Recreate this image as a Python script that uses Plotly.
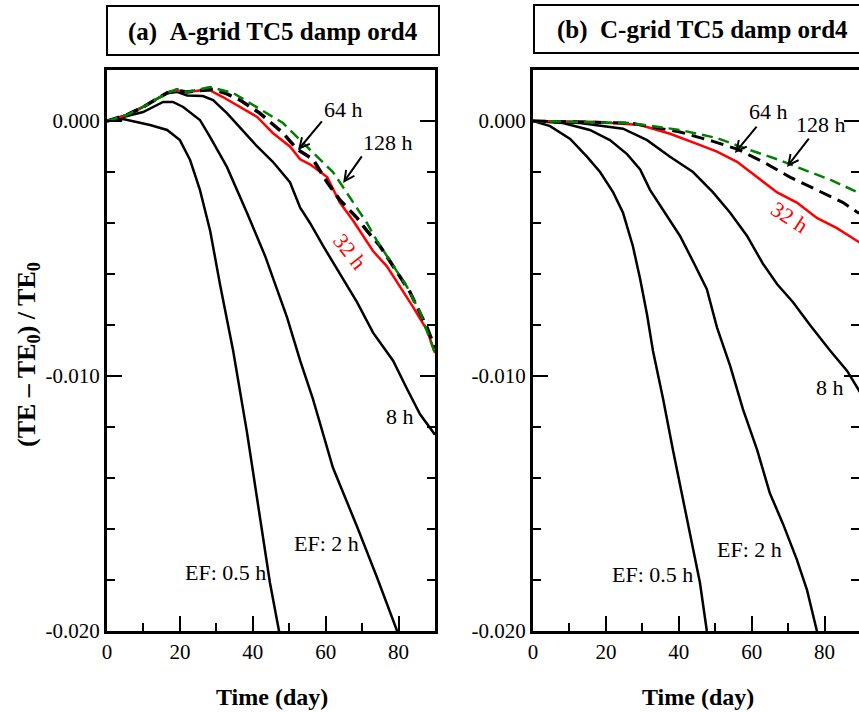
import plotly.graph_objects as go

W, H = 859, 712

# ---------------- data: panel (a) A-grid ----------------
a_ef05_day = [0, 4.4, 11.8, 16.5, 20, 22.8, 25.5, 28.3, 31, 34.6, 38.4, 42, 44.7, 47.2, 48]
a_ef05_te = [0, 0.00008, -0.00016, -0.00035, -0.00075, -0.00153, -0.0027, -0.0043, -0.0064, -0.0090,
             -0.0122, -0.0155, -0.0181, -0.0200, -0.0207]

a_ef2_day = [0, 9.9, 15.4, 18.1, 20.9, 25.5, 28.3, 32.9, 38.4, 43.4, 49.4, 53, 56.5, 62, 68.6, 74.1, 79.6, 80.4]
a_ef2_te = [0, 0.00035, 0.00075, 0.00075, 0.00055, 0.00004, -0.00063, -0.0018, -0.0036, -0.0053, -0.0077,
            -0.0094, -0.0109, -0.0136, -0.0159, -0.0179, -0.0200, -0.0204]

a_ef8_day = [0, 5.5, 9.9, 16.5, 19.2, 22, 26.3, 29.1, 32.9, 36.5, 41.2, 45.5, 50.2, 53, 55.7, 59.3, 63.9,
             68.6, 73, 78.5, 82.3, 85.9, 90]
a_ef8_te = [0, 0.00024, 0.00055, 0.0011, 0.00114, 0.0010, 0.00098, 0.00082, 0.00031, -0.00024, -0.0010,
            -0.0016, -0.0024, -0.0034, -0.0040, -0.0049, -0.0060, -0.0071, -0.0083, -0.0094, -0.0105,
            -0.0115, -0.0123]

a_ef32_day = [0, 5.5, 9.9, 16.5, 19.2, 22, 25.5, 28.3, 31.8, 36.5, 41.2, 45.5, 50.2, 53, 55.7, 60.4, 63.9,
              67.5, 73, 76.8, 80.4, 84, 87.8, 90]
a_ef32_te = [0, 0.00024, 0.00055, 0.0011, 0.0012, 0.00114, 0.0012, 0.0012, 0.00094, 0.00055, 0.00016,
             -0.00047, -0.0010, -0.0015, -0.0017, -0.0022, -0.0032, -0.0039, -0.0051, -0.0057, -0.0065,
             -0.0073, -0.0082, -0.0091]

a_ef64_day = [0, 5.5, 9.9, 16.5, 19.2, 22, 25.5, 29.1, 32.9, 36.5, 41.9, 48.3, 52.1, 56.5, 60.4, 63.9,
              68.6, 71.3, 74.9, 78.5, 83.1, 87.8, 90]
a_ef64_te = [0, 0.00024, 0.00055, 0.0011, 0.0012, 0.00114, 0.0012, 0.00125, 0.00106, 0.00082, 0.00031,
             -0.00047, -0.0011, -0.0015, -0.0024, -0.0031, -0.0038, -0.0043, -0.0049, -0.0057, -0.0067,
             -0.0081, -0.0089]

a_ef128_day = [0, 5.5, 9.9, 16.5, 19.2, 22, 25.5, 28.3, 34.6, 39.2, 43.9, 48.3, 53, 57.6, 62, 64.8, 68.6,
               71.3, 74.1, 77.7, 82.3, 85.9, 89.5, 90]
a_ef128_te = [0, 0.00024, 0.00055, 0.0011, 0.00125, 0.00114, 0.00125, 0.00133, 0.0011, 0.0007, 0.00031,
              -0.00008, -0.00075, -0.0014, -0.0020, -0.0026, -0.0034, -0.0040, -0.0047, -0.0055, -0.0065,
              -0.0075, -0.0089, -0.0091]

# ---------------- data: panel (b) C-grid ----------------
b_ef05_day = [0, 4.7, 10.2, 14.8, 18.4, 22, 24.7, 27.4, 29.4, 31.3, 32.9, 35.7, 38.4, 41.2, 43.9, 45.8, 47.7, 48.3]
b_ef05_te = [0, -0.0002, -0.0007, -0.0014, -0.0020, -0.0028, -0.0036, -0.0049, -0.0062, -0.0076, -0.0090,
             -0.0109, -0.0129, -0.0149, -0.0168, -0.0181, -0.0200, -0.0204]

b_ef2_day = [0, 8.2, 15.6, 21.1, 25.8, 29.4, 32.1, 35.7, 40.3, 43.9, 47.7, 50.5, 54.1, 57.6, 61.5, 65, 68.6,
             72.4, 75.2, 77.9, 78.6]
b_ef2_te = [0, -0.00008, -0.00035, -0.00075, -0.0013, -0.0019, -0.0027, -0.0035, -0.0045, -0.0055, -0.0066,
            -0.0081, -0.0096, -0.0113, -0.0129, -0.0146, -0.0158, -0.0172, -0.0184, -0.0200, -0.0204]

b_ef8_day = [0, 12.9, 24.7, 31.3, 37.6, 43.9, 49.4, 54.1, 58.7, 63.1, 67, 71.3, 76, 81.5, 86.2, 90]
b_ef8_te = [0, -0.00008, -0.0003, -0.00075, -0.0014, -0.0020, -0.0028, -0.0036, -0.0045, -0.0056, -0.0064,
            -0.0071, -0.0080, -0.0090, -0.0098, -0.0107]

b_ef32_day = [0, 17.6, 29.4, 37.6, 45, 50.5, 56, 61.5, 67, 72.4, 77.9, 83.4, 89.2, 90]
b_ef32_te = [0, -0.00004, -0.00016, -0.0005, -0.0009, -0.0012, -0.0016, -0.0022, -0.0028, -0.0032, -0.0038,
             -0.0042, -0.0047, -0.0048]

b_ef64_day = [0, 26.6, 40.3, 49.4, 56, 63.1, 70.5, 77.9, 85.1, 89.2, 90]
b_ef64_te = [0, -0.00008, -0.00043, -0.0008, -0.0011, -0.0016, -0.0022, -0.0027, -0.0032, -0.0036, -0.0036]

b_ef128_day = [0, 26.6, 40.3, 50.5, 58.7, 67, 74.1, 81.5, 89.2, 90]
b_ef128_te = [0, -0.00008, -0.00035, -0.00067, -0.0011, -0.0015, -0.0019, -0.0023, -0.0028, -0.0029]

# ---------------- labels ----------------
panel_titles = ["(a)\u00a0\u00a0A-grid TC5 damp ord4", "(b)\u00a0\u00a0C-grid TC5 damp ord4"]
x_title = "Time (day)"
y_title = "(TE \u2013 TE<sub>0</sub>) / TE<sub>0</sub>"
y_tickvals = [0.0, -0.010, -0.020]
y_ticktext = ["0.000", "-0.010", "-0.020"]
x_tickvals = [0, 20, 40, 60, 80]
x_ticktext = ["0", "20", "40", "60", "80"]

FONT = "Liberation Serif, Times New Roman, Times, serif"


def px_x(p):
    return p / W


def px_y(p):
    return 1 - p / H


fig = go.Figure()

solid = dict(color="black", width=2.5)
red = dict(color="#ff0000", width=2.5)
bdash = dict(color="black", width=3.5, dash="13px,7px")
gdash = dict(color="#008000", width=2.5, dash="11px,6px")

series_a = [(a_ef05_day, a_ef05_te, solid), (a_ef2_day, a_ef2_te, solid), (a_ef8_day, a_ef8_te, solid),
            (a_ef32_day, a_ef32_te, red), (a_ef64_day, a_ef64_te, bdash), (a_ef128_day, a_ef128_te, gdash)]
series_b = [(b_ef05_day, b_ef05_te, solid), (b_ef2_day, b_ef2_te, solid), (b_ef8_day, b_ef8_te, solid),
            (b_ef32_day, b_ef32_te, red), (b_ef64_day, b_ef64_te, dict(bdash, width=3)),
            (b_ef128_day, b_ef128_te, gdash)]

for xs, ys, ln in series_a:
    fig.add_trace(go.Scatter(x=xs, y=ys, mode="lines", line=ln, xaxis="x", yaxis="y",
                             showlegend=False, hoverinfo="skip"))
for xs, ys, ln in series_b:
    fig.add_trace(go.Scatter(x=xs, y=ys, mode="lines", line=ln, xaxis="x2", yaxis="y2",
                             showlegend=False, hoverinfo="skip"))
# invisible copy so the right-edge tick axis of panel (b) is drawn
fig.add_trace(go.Scatter(x=b_ef8_day, y=b_ef8_te, mode="lines", line=dict(width=0), opacity=0,
                         xaxis="x2", yaxis="y3", showlegend=False, hoverinfo="skip"))

tickfont = dict(family=FONT, size=21, color="black")
x_dom_a = [px_x(107), px_x(435)]
x_dom_b = [px_x(533), 1.0]
y_dom = [px_y(631), px_y(70)]
xr_a = [0, 90]
xr_b = [0, 90 * (W - 533) / 328]
yr = [-0.020, 0.002]

xcommon = dict(showgrid=False, zeroline=False, showline=True, linecolor="black", linewidth=3,
               mirror=True, ticks="inside", ticklen=15, tickwidth=2, tickcolor="black",
               automargin=False,
               tickmode="array", tickvals=x_tickvals, ticktext=x_ticktext, tickfont=tickfont,
               minor=dict(tickmode="linear", tick0=0, dtick=10, ticklen=8, tickwidth=2,
                          tickcolor="black", ticks="inside"))
ycommon = dict(showgrid=False, zeroline=False, showline=True, linecolor="black", linewidth=3,
               ticks="inside", ticklen=15, tickwidth=2, tickcolor="black", range=yr,
               automargin=False,
               tickmode="array", tickvals=y_tickvals, ticktext=y_ticktext, tickfont=tickfont,
               minor=dict(tickmode="linear", tick0=0, dtick=0.002, ticklen=8, tickwidth=2,
                          tickcolor="black", ticks="inside"))

fig.update_layout(
    width=W, height=H, margin=dict(l=0, r=0, t=0, b=0, pad=0, autoexpand=False),
    paper_bgcolor="white", plot_bgcolor="white",
    xaxis=dict(xcommon, domain=x_dom_a, range=xr_a, anchor="y"),
    yaxis=dict(ycommon, domain=y_dom, anchor="x", mirror="allticks"),
    xaxis2=dict(xcommon, domain=x_dom_b, range=xr_b, anchor="y2"),
    yaxis2=dict(ycommon, domain=y_dom, anchor="x2", mirror=False),
    yaxis3=dict(ycommon, overlaying="y2", anchor="x2", side="right", showline=False,
                showticklabels=False),
)

anns = []
# panel titles in boxes
fig.add_shape(type="rect", xref="paper", yref="paper", x0=px_x(107), x1=px_x(439), y0=px_y(55),
              y1=px_y(6), line=dict(color="black", width=2))
fig.add_shape(type="rect", xref="paper", yref="paper", x0=px_x(534), x1=px_x(880), y0=px_y(53),
              y1=px_y(5), line=dict(color="black", width=2))
tfont = dict(family=FONT, size=25, color="black")
anns.append(dict(text="<b>" + panel_titles[0] + "</b>", x=px_x(273), y=px_y(32), xref="paper",
                 yref="paper", showarrow=False, font=tfont, xanchor="center", yanchor="middle"))
anns.append(dict(text="<b>" + panel_titles[1] + "</b>", x=px_x(702), y=px_y(30), xref="paper",
                 yref="paper", showarrow=False, font=tfont, xanchor="center", yanchor="middle"))
# axis titles
xtfont = dict(family=FONT, size=24, color="black")
anns.append(dict(text="<b>" + x_title + "</b>", x=px_x(272), y=px_y(697), xref="paper", yref="paper",
                 showarrow=False, font=xtfont, xanchor="center", yanchor="middle"))
anns.append(dict(text="<b>" + x_title + "</b>", x=px_x(698), y=px_y(697), xref="paper", yref="paper",
                 showarrow=False, font=xtfont, xanchor="center", yanchor="middle"))
anns.append(dict(text="<b>" + y_title + "</b>", x=px_x(28), y=px_y(355), xref="paper", yref="paper",
                 showarrow=False, font=dict(family=FONT, size=26, color="black"), textangle=-90,
                 xanchor="center", yanchor="middle"))

lfont = dict(family=FONT, size=22, color="black")
rfont = dict(family=FONT, size=22, color="#ff0000")

# curve labels: (text, x, y, axis suffix, font, angle)
labels = [
    ("64 h", 64.8, 0.00047, "", lfont, 0),
    ("128 h", 77.1, -0.00086, "", lfont, 0),
    ("32 h", 66.7, -0.0051, "", rfont, 52),
    ("8 h", 80.4, -0.0116, "", lfont, 0),
    ("EF: 2 h", 60.1, -0.01655, "", lfont, 0),
    ("EF: 0.5 h", 32.4, -0.01769, "", lfont, 0),
    ("64 h", 64.5, 0.00039, "2", lfont, 0),
    ("128 h", 79.0, -0.00012, "2", lfont, 0),
    ("32 h", 70.5, -0.0038, "2", rfont, 33),
    ("8 h", 81.5, -0.01047, "2", lfont, 0),
    ("EF: 2 h", 59.3, -0.01682, "2", lfont, 0),
    ("EF: 0.5 h", 32.7, -0.0178, "2", lfont, 0),
]
for t, x, y, s, f, ang in labels:
    anns.append(dict(text=t, x=x, y=y, xref="x" + s, yref="y" + s, showarrow=False, font=f,
                     textangle=ang, xanchor="center", yanchor="middle"))

# arrows: (tail x, tail y, tip x, tip y, axis suffix)
arrows = [
    (59.3, 0.00004, 52.4, -0.00114, ""),
    (70.2, -0.00133, 64.8, -0.00243, ""),
    (61.7, -0.00016, 55.4, -0.00125, "2"),
    (76.0, -0.00063, 69.7, -0.0018, "2"),
]
for tx, ty, hx, hy, s in arrows:
    anns.append(dict(text="", x=hx, y=hy, ax=tx, ay=ty, xref="x" + s, yref="y" + s,
                     axref="x" + s, ayref="y" + s, showarrow=True, arrowhead=5, arrowsize=1,
                     arrowwidth=2, arrowcolor="black", standoff=0, startstandoff=0))

fig.update_layout(annotations=anns)
fig.write_html("out.html")
